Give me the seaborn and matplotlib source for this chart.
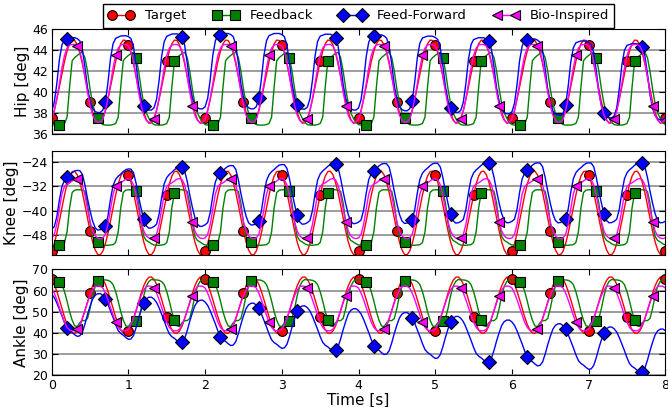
import matplotlib
import matplotlib.pyplot as plt
import numpy as np
import pandas as pd
import seaborn as sns

matplotlib.use("Agg")

SAMPLES_PER_CYCLE = 20
N_CYCLES = 12
FS = 30.0

CONTROLLERS = ["Target", "Feedback", "Feed-Forward", "Bio-Inspired"]
COLORS = ["#ff0000", "#008000", "#0000ff", "#ff00ff"]
MARKERS = ["o", "s", "D", "<"]
MARK_START = [0, 3, 6, 10]
MARK_STEP = 15

# ---- hip [deg], one cycle each
HIP_TARGET = [37.50, 38.26, 39.30, 40.50, 41.75, 42.93, 43.92, 44.62, 44.97, 44.93,
              44.50, 43.74, 42.70, 41.50, 40.25, 39.07, 38.08, 37.38, 37.03, 37.07]
HIP_FEEDBACK = [36.9, 36.85, 36.85, 36.85, 36.9, 37.0, 37.6, 40.5, 43.0, 43.3,
                43.5, 43.7, 43.8, 43.3, 42.0, 40.3, 38.9, 38.0, 37.5, 37.1]
HIP_FEEDFORWARD = [38.4, 39.2, 41.0, 43.3, 44.7, 45.2, 45.3, 45.4, 45.4, 45.4,
                   45.3, 45.1, 44.3, 42.6, 40.6, 39.3, 38.6, 38.3, 38.2, 38.2]
HIP_FEEDFORWARD_DRIFT = [-0.2, 0.05, 0.2, 0.2, 0.2, 0.1, 0.05, -0.1, -0.25, -0.35, -0.6, -0.85]
HIP_BIO = [37.4, 38.2, 39.4, 40.8, 42.3, 43.5, 44.2, 44.5, 44.55, 44.55,
           44.4, 43.9, 42.9, 41.5, 40.0, 38.7, 37.8, 37.3, 37.1, 37.15]

# ---- knee [deg]
KNEE_TARGET = [-53.33, -50.88, -47.45, -43.35, -39.01, -34.83, -31.23, -28.57, -27.10, -26.96,
               -28.17, -30.62, -34.05, -38.15, -42.49, -46.67, -50.27, -52.93, -54.40, -54.54]
KNEE_FEEDBACK = [-51.3, -51.4, -51.4, -51.3, -51.2, -50.5, -47.0, -39.0, -34.0, -33.2,
                 -33.1, -33.1, -33.2, -33.6, -37.5, -44.0, -48.5, -49.8, -50.3, -50.9]
KNEE_FEEDFORWARD = [-43.5, -42.8, -39.5, -34.0, -29.5, -27.5, -26.5, -25.8, -25.0, -24.4,
                    -24.2, -24.3, -25.5, -29.0, -33.5, -37.5, -41.0, -43.2, -44.0, -43.9]
KNEE_FEEDFORWARD_DRIFT = [-2.5, -1.9, -1.3, -0.8, -0.5, -0.3, -0.2, -0.1, 0.0, 0.0, 0.0, 0.0]
KNEE_BIO = [-49.0, -47.8, -44.5, -39.5, -34.5, -32.0, -31.2, -30.8, -30.2, -29.6,
            -29.4, -29.8, -31.5, -35.0, -39.5, -43.6, -46.7, -48.3, -49.0, -49.2]

# ---- ankle [deg]
ANKLE_TARGET = [65.27, 62.94, 59.64, 55.70, 51.52, 47.48, 44.00, 41.40, 39.95, 39.79,
                40.93, 43.26, 46.56, 50.50, 54.68, 58.71, 62.20, 64.80, 66.25, 66.41]
ANKLE_FEEDBACK = [65.0, 65.0, 64.8, 64.2, 62.8, 59.5, 55.0, 50.0, 46.0, 43.3,
                  43.0, 44.8, 45.8, 45.8, 46.8, 51.5, 57.5, 62.0, 64.3, 65.2]
ANKLE_FEEDFORWARD = [9.5, 8.0, 5.5, 2.5, -0.5, -3.8, -6.5, -7.8, -8.5, -9.5,
                     -10.3, -10.0, -8.3, -4.5, 0.0, 4.0, 7.5, 9.4, 10.2, 10.3]
ANKLE_FEEDFORWARD_DRIFT = [48.65, 46.9, 45.5, 44.05, 42.75, 41.55, 39.75, 37.9, 36.2, 34.4, 32.8, 31.55]
ANKLE_BIO = [61.2, 58.8, 55.6, 52.0, 48.4, 45.0, 42.6, 41.3, 41.0, 41.0,
             41.7, 43.8, 47.0, 50.6, 54.2, 57.6, 60.2, 61.9, 62.1, 62.0]

HIP_TICKS = [36, 38, 40, 42, 44, 46]
KNEE_TICKS = [-48, -40, -32, -24]
ANKLE_TICKS = [20, 30, 40, 50, 60, 70]

TIME = np.arange(N_CYCLES * SAMPLES_PER_CYCLE + 1) / FS
CYCLE_CENTERS = (np.arange(N_CYCLES) + 0.7) * SAMPLES_PER_CYCLE / FS


def build_curve(profile, drift=None):
    values = np.append(np.tile(profile, N_CYCLES), profile[0])
    if drift is not None:
        values = values + np.interp(TIME, CYCLE_CENTERS, drift)
    return values


def build_frame(curves):
    parts = []
    for name, values in zip(CONTROLLERS, curves):
        parts.append(pd.DataFrame({"time": TIME, "angle": values, "controller": name}))
    return pd.concat(parts, ignore_index=True)


PANELS = [
    ("Hip [deg]", [HIP_TARGET, HIP_FEEDBACK, (HIP_FEEDFORWARD, HIP_FEEDFORWARD_DRIFT), HIP_BIO],
     (36, 46), HIP_TICKS, (0.0774, 0.6708, 0.9186, 0.2572)),
    ("Knee [deg]", [KNEE_TARGET, KNEE_FEEDBACK, (KNEE_FEEDFORWARD, KNEE_FEEDFORWARD_DRIFT), KNEE_BIO],
     (-54.6, -20.2), KNEE_TICKS, (0.0774, 0.3735, 0.9186, 0.2563)),
    ("Ankle [deg]", [ANKLE_TARGET, ANKLE_FEEDBACK, (ANKLE_FEEDFORWARD, ANKLE_FEEDFORWARD_DRIFT), ANKLE_BIO],
     (20, 70), ANKLE_TICKS, (0.0774, 0.0779, 0.9186, 0.2604)),
]

sns.set_style("ticks", {
    "axes.edgecolor": "black",
    "xtick.color": "black",
    "ytick.color": "black",
    "text.color": "black",
    "axes.labelcolor": "black",
    "xtick.direction": "in",
    "ytick.direction": "in",
})
plt.rcParams["font.family"] = ["DejaVu Sans"]

fig = plt.figure(figsize=(6.68, 4.07), dpi=100)
axes = []
for label, series, ylim, yticks, rect in PANELS:
    ax = fig.add_axes(rect)
    curves = []
    for item in series:
        if isinstance(item, tuple):
            curves.append(build_curve(item[0], item[1]))
        else:
            curves.append(build_curve(item))
    frame = build_frame(curves)
    for name, color, marker, start in zip(CONTROLLERS, COLORS, MARKERS, MARK_START):
        sns.lineplot(
            data=frame[frame["controller"] == name],
            x="time",
            y="angle",
            color=color,
            marker=marker,
            markevery=(start, MARK_STEP),
            markersize=7,
            markeredgecolor="black",
            markeredgewidth=0.8,
            linewidth=1.0,
            label=name,
            estimator=None,
            sort=False,
            legend=False,
            ax=ax,
        )
    ax.set_xlim(0, 8)
    ax.set_ylim(*ylim)
    ax.set_yticks(yticks)
    ax.set_xticks(range(0, 9))
    ax.yaxis.grid(True, color="0.55", linewidth=1.2)
    ax.xaxis.grid(False)
    ax.set_axisbelow(True)
    ax.tick_params(direction="in", top=True, right=True, length=4, labelsize=9, pad=2.5)
    ax.set_ylabel(label, fontsize=11, labelpad=2)
    ax.set_xlabel("")
    for spine in ax.spines.values():
        spine.set_visible(True)
        spine.set_color("black")
    axes.append(ax)

for ax in axes[:-1]:
    ax.tick_params(labelbottom=False)
axes[-1].set_xlabel("Time [s]", fontsize=11, labelpad=1)
fig.align_ylabels(axes)

handles, labels = axes[0].get_legend_handles_labels()
fig.legend(
    handles,
    labels,
    loc="upper center",
    bbox_to_anchor=(0.5367, 0.99),
    ncol=4,
    numpoints=2,
    fontsize=9.5,
    frameon=True,
    fancybox=False,
    edgecolor="black",
    framealpha=1.0,
    borderaxespad=0.0,
)

fig.savefig("out.png", dpi=100)
plt.close(fig)
